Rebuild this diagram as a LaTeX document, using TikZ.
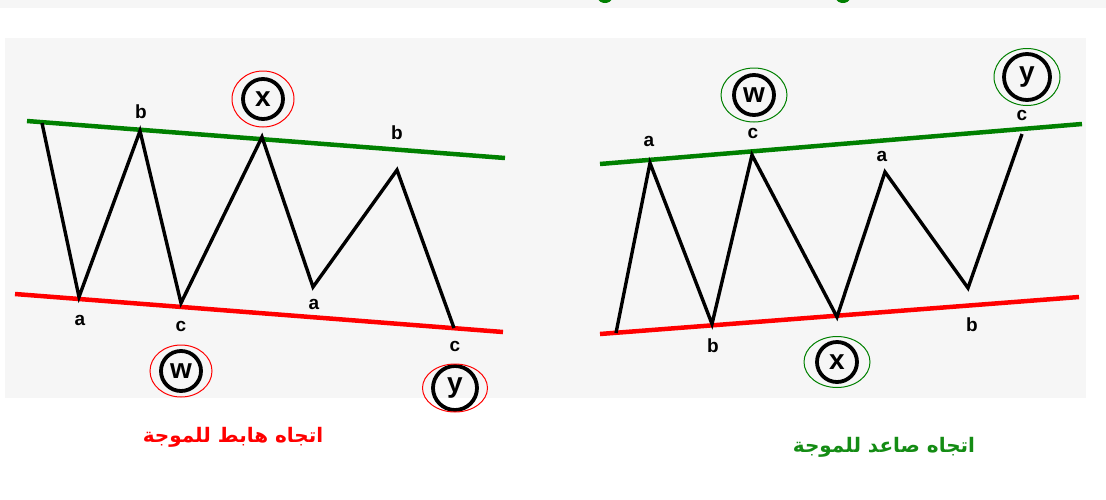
\documentclass[tikz,border=0pt]{standalone}
\usepackage{fontspec}
\setmainfont{Liberation Sans}
\newfontfamily\arabicfont[Script=Arabic]{DejaVu Sans}
\TeXXeTstate=1
\usetikzlibrary{shapes.geometric}
\definecolor{lineg}{RGB}{0,128,0}
\definecolor{liner}{RGB}{255,0,0}
\definecolor{txtg}{RGB}{20,140,20}
\definecolor{panel}{RGB}{246,246,246}
\tikzset{
  trend/.style={line width=4.5pt},
  wave/.style={line width=3.4pt, black, line join=miter},
  lbl/.style={font=\bfseries\fontsize{19}{19}\selectfont, inner sep=0pt},
  circ/.style={circle, draw=black, line width=3.8pt, minimum width=40pt, inner sep=0pt,
     font=\bfseries\fontsize{28}{28}\selectfont},
  ringr/.style={ellipse, draw=liner, line width=1pt, minimum width=62pt, minimum height=56pt, inner sep=0pt},
  ringg/.style={ellipse, draw=lineg, line width=1pt, minimum width=64pt, minimum height=56pt, inner sep=0pt},
  caption/.style={font=\arabicfont\bfseries\fontsize{20}{20}\selectfont, inner sep=0pt}
}
\begin{document}
\begin{tikzpicture}[x=1pt,y=-1pt]
\useasboundingbox (0,0) rectangle (1106,499);
\fill[white] (0,0) rectangle (1106,499);
\fill[panel] (0,0) rectangle (1106,8);
\fill[panel] (5,38) rectangle (1086,398);
% cut-off title fragments
\fill[lineg] (605,-2) ellipse (7pt and 5pt);
\fill[lineg] (843,-2) ellipse (7pt and 5pt);

% ---------------- left panel ----------------
\coordinate (lg1) at (27,121);
\coordinate (lg2) at (505,158);
\coordinate (lr1) at (15,294);
\coordinate (lr2) at (503,332);
\draw[trend, lineg] (lg1) -- (lg2);
\draw[trend, liner] (lr1) -- (lr2);

\coordinate (l0) at (42,123);
\coordinate (l1) at (79,297);
\coordinate (l2) at (140,131);
\coordinate (l3) at (181,303);
\coordinate (l4) at (262,137);
\coordinate (l5) at (313,287);
\coordinate (l6) at (397,170);
\coordinate (l7) at (454,328);
\draw[wave] (l0) -- (l1) -- (l2) -- (l3) -- (l4) -- (l5) -- (l6) -- (l7);

\node[lbl] (lb1) at (141,112) {b};
\node[lbl] (lb2) at (397,133) {b};
\node[lbl] (la1) at (80,320) {a};
\node[lbl] (lc1) at (181,326) {c};
\node[lbl] (la2) at (314,304) {a};
\node[lbl] (lc2) at (455,346) {c};

\node[circ] (lx) at (263,99) {x};
\node[ringr] (lxr) at (lx) {};
\node[circ] (lw) at (181,371) {w};
\node[ringr, minimum height=52pt] (lwr) at (lw) {};
\node[circ, minimum width=44pt] (ly) at (455,388) {y};
\node[ringr, minimum width=65pt, minimum height=48pt] (lyr) at (ly) {};

\node[caption, text=liner] (lcap) at (233,437) {\beginR اتجاه هابط للموجة\endR};

% ---------------- right panel ----------------
\coordinate (rg1) at (600,164);
\coordinate (rg2) at (1082,124);
\coordinate (rr1) at (600,334);
\coordinate (rr2) at (1079,297);
\draw[trend, lineg] (rg1) -- (rg2);
\draw[trend, liner] (rr1) -- (rr2);

\coordinate (r0) at (616,333);
\coordinate (r1) at (650,163);
\coordinate (r2) at (712,324);
\coordinate (r3) at (752,155);
\coordinate (r4) at (837,317);
\coordinate (r5) at (885,172);
\coordinate (r6) at (968,288);
\coordinate (r7) at (1022,134);
\draw[wave] (r0) -- (r1) -- (r2) -- (r3) -- (r4) -- (r5) -- (r6) -- (r7);

\node[lbl] (ra1) at (649,141) {a};
\node[lbl] (rc1) at (753,133) {c};
\node[lbl] (ra2) at (882,156) {a};
\node[lbl] (rc2) at (1022,115) {c};
\node[lbl] (rb1) at (713,346) {b};
\node[lbl] (rb2) at (972,325) {b};

\node[circ] (rw) at (754,95) {w};
\node[ringg, minimum width=66pt, minimum height=54pt] (rwr) at (rw) {};
\node[circ, minimum width=46pt] (ry) at (1027,77) {y};
\node[ringg, minimum width=66pt, minimum height=57pt] (ryr) at (ry) {};
\node[circ] (rx) at (837,362) {x};
\node[ringg, minimum width=66pt, minimum height=51pt] (rxr) at (rx) {};

\node[caption, text=txtg] (rcap) at (884,447) {\beginR اتجاه صاعد للموجة\endR};
\end{tikzpicture}
\end{document}
